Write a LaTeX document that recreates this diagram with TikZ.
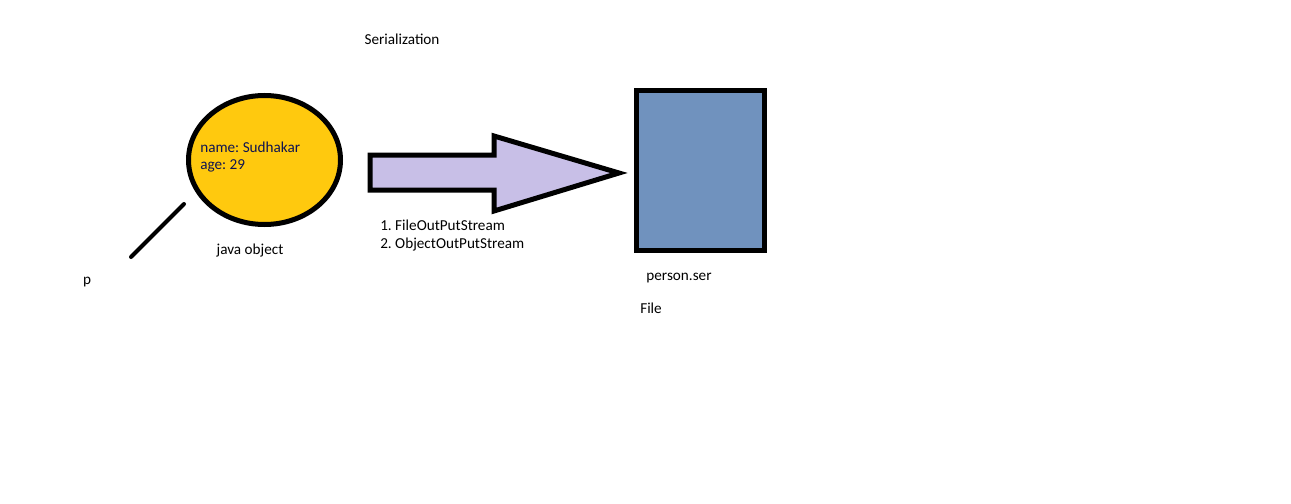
\documentclass[tikz,border=0pt]{standalone}
\usepackage{fontspec}
\setmainfont{Carlito}
\frenchspacing
\usetikzlibrary{shapes.geometric}
\definecolor{objyellow}{RGB}{255,201,14}
\definecolor{arrowfill}{RGB}{200,191,231}
\definecolor{filefill}{RGB}{112,146,190}
\definecolor{navytext}{RGB}{15,20,80}
\tikzset{
  px/.style={x=0.75pt,y=-0.75pt},
  lbl/.style={font=\fontsize{11.4pt}{13.5pt}\selectfont, inner sep=0pt, text=black},
  thick5/.style={line width=3.75pt},
}
\begin{document}
\begin{tikzpicture}[px]
\useasboundingbox (0,0) rectangle (1291,503);
% object ellipse
\node[ellipse, draw=black, thick5, fill=objyellow, minimum width=114pt, minimum height=96.75pt, inner sep=0pt] (obj) at (264.5,160) {};
\node[lbl, anchor=west, text=navytext, align=left, font=\fontsize{11.4pt}{12.75pt}\selectfont] (props) at (200,157) {name: Sudhakar\\age: 29};
\node[lbl] (javaobj) at (250,251) {java object};
% reference line p
\coordinate (ps) at (184,204);
\coordinate (pe) at (131,257);
\draw[line width=3pt, line cap=round] (ps) -- (pe);
\node[lbl] (p) at (87,282) {p};
% title
\node[lbl] (title) at (402,39) {Serialization};
% big arrow
\draw[thick5, fill=arrowfill, line join=miter]
  (370,155) -- (494,155) -- (494,136) -- (619,173) -- (494,211) -- (494,190) -- (370,190) -- cycle;
\node[lbl, anchor=west, align=left] (streams) at (380,236) {1. FileOutPutStream\\2. ObjectOutPutStream};
% file rectangle
\node[draw=black, thick5, fill=filefill, minimum width=96pt, minimum height=120pt, inner sep=0pt] (file) at (700.5,170.5) {};
\node[lbl] (fname) at (679,278) {person.ser};
\node[lbl, anchor=west] (filelbl) at (640,308) {File};
\end{tikzpicture}
\end{document}
